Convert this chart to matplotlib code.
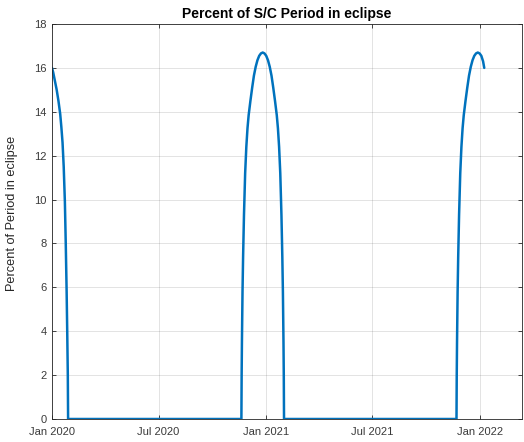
import numpy as np
import matplotlib
matplotlib.use("Agg")
import matplotlib.pyplot as plt

# ---- data ----
dates = [
    # season 1 (tail of the Dec 2019 season)
    "2020-01-01T00", "2020-01-03T00", "2020-01-06T00", "2020-01-09T00",
    "2020-01-12T00", "2020-01-15T00", "2020-01-17T00", "2020-01-19T00",
    "2020-01-21T00", "2020-01-23T00", "2020-01-24T12", "2020-01-26T00",
    "2020-01-27T00", "2020-01-28T00", "2020-01-28T12",
    # season 2
    "2020-11-19T14", "2020-11-20T00", "2020-11-20T12", "2020-11-21T12",
    "2020-11-22T12", "2020-11-24T00", "2020-11-26T00", "2020-11-28T00",
    "2020-11-30T00", "2020-12-02T00", "2020-12-05T00", "2020-12-08T00",
    "2020-12-11T00", "2020-12-14T00", "2020-12-17T00", "2020-12-20T00",
    "2020-12-23T00", "2020-12-26T00", "2020-12-29T00", "2021-01-01T00",
    "2021-01-04T00", "2021-01-07T00", "2021-01-10T00", "2021-01-13T00",
    "2021-01-16T00", "2021-01-19T00", "2021-01-21T00", "2021-01-23T00",
    "2021-01-25T00", "2021-01-27T00", "2021-01-28T12", "2021-01-29T12",
    "2021-01-30T12", "2021-01-31T00", "2021-01-31T10",
    # season 3 (start of the Dec 2021 season)
    "2021-11-22T02", "2021-11-22T12", "2021-11-23T00", "2021-11-24T00",
    "2021-11-25T00", "2021-11-26T12", "2021-11-28T12", "2021-11-30T12",
    "2021-12-02T12", "2021-12-04T12", "2021-12-07T12", "2021-12-10T12",
    "2021-12-13T12", "2021-12-16T12", "2021-12-19T12", "2021-12-22T12",
    "2021-12-25T12", "2021-12-28T12", "2021-12-31T12", "2022-01-03T12",
    "2022-01-06T12", "2022-01-08T12",
]
percent = [
    # season 1
    16.0, 15.8, 15.4, 15.0,
    14.5, 13.9, 13.3, 12.6,
    11.5, 9.9, 8.0, 5.8,
    4.0, 2.0, 0.0,
    # season 2
    0.0, 2.0, 3.5, 5.8,
    7.4, 9.3, 11.2, 12.4,
    13.25, 13.85, 14.5, 15.1,
    15.65, 16.05, 16.35, 16.55,
    16.66, 16.70, 16.66, 16.55,
    16.35, 16.05, 15.65, 15.1,
    14.5, 13.85, 13.25, 12.4,
    11.2, 9.3, 7.4, 5.8,
    3.5, 2.0, 0.0,
    # season 3
    0.0, 2.0, 3.5, 5.8,
    7.4, 9.3, 11.2, 12.4,
    13.25, 13.85, 14.5, 15.1,
    15.65, 16.05, 16.35, 16.55,
    16.66, 16.70, 16.66, 16.55,
    16.3, 16.0,
]
xtick_dates = ["2020-01-01", "2020-07-01", "2021-01-01", "2021-07-01", "2022-01-01"]
xtick_labels = ["Jan 2020", "Jul 2020", "Jan 2021", "Jul 2021", "Jan 2022"]
yticks = list(range(0, 19, 2))
x_limits = ["2020-01-01", "2022-03-14"]

title = "Percent of S/C Period in eclipse"
ylabel = "Percent of Period in eclipse"

# ---- plot ----
plt.rcParams['font.family'] = ['Liberation Sans', 'DejaVu Sans']
fig = plt.figure(figsize=(5.24, 4.42), dpi=100)
ax = fig.add_axes([52/524, 23/442, 470/524, 395/442])

x = np.array(dates, dtype="datetime64[h]")
ax.plot(x, percent, color=(0, 0.447, 0.741), lw=1.8,
        solid_joinstyle='round', solid_capstyle='round')

ax.set_xlim(np.datetime64(x_limits[0]), np.datetime64(x_limits[1]))
ax.set_ylim(0, 18)
ax.set_xticks(np.array(xtick_dates, dtype="datetime64[D]"))
ax.set_xticklabels(xtick_labels)
ax.set_yticks(yticks)

edge = (0.15, 0.15, 0.15)
for s in ax.spines.values():
    s.set_color(edge)
    s.set_linewidth(0.6)
ax.tick_params(direction='in', length=3, width=0.6, colors=edge,
               labelsize=8, top=True, right=True)
ax.tick_params(axis='x', pad=6)
ax.tick_params(axis='y', pad=4)
for lbl in ax.get_xticklabels() + ax.get_yticklabels():
    lbl.set_color('#3a3a3a')
ax.grid(True, color=(0.15, 0.15, 0.15), alpha=0.15, lw=0.6)
ax.set_axisbelow(True)

ax.set_title(title, fontsize=10, fontweight='bold', pad=4)
ax.set_ylabel(ylabel, fontsize=9.2, color='#262626', labelpad=6)
ax.yaxis.set_label_coords(-0.072, 0.52)

fig.savefig("out.png", dpi=100, facecolor='white')
